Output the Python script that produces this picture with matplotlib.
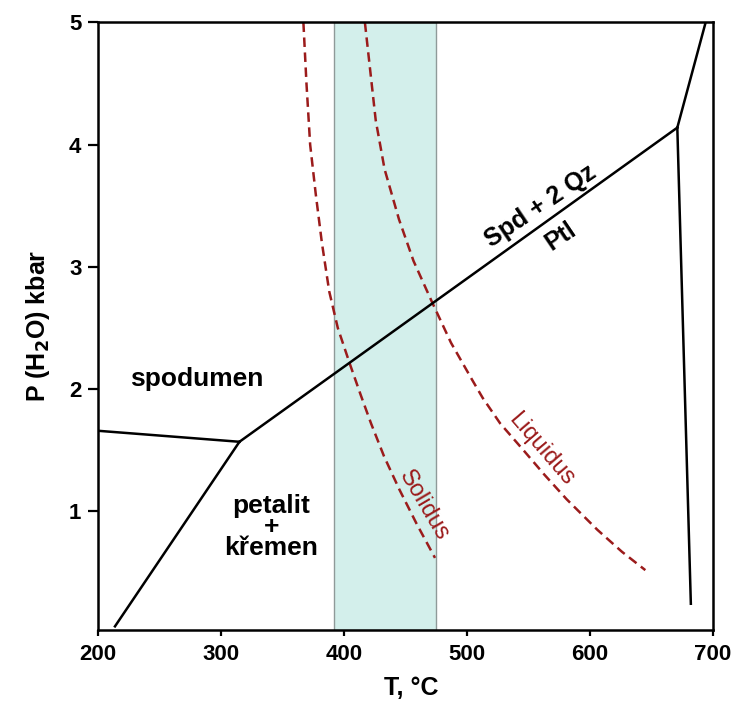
import matplotlib.pyplot as plt

plt.rcParams['font.family'] = ['Liberation Sans', 'DejaVu Sans']
plt.rcParams['font.weight'] = 'bold'
plt.rcParams['mathtext.default'] = 'bf'

# phase boundaries (T in degC, P in kbar)
spd_ptl_T = [315, 671]
spd_ptl_P = [1.57, 4.14]
left_T = [200, 315]
left_P = [1.66, 1.57]
low_T = [213.8, 315]
low_P = [0.06, 1.57]
upper_T = [671, 694]
upper_P = [4.14, 5.0]
steep_T = [671, 682]
steep_P = [4.14, 0.245]

# melting curves
solidus_T = [367, 369.5, 372.5, 377, 382, 388, 395, 405, 413.7, 422, 432.6, 445, 459, 474]
solidus_P = [5.0, 4.5, 4.0, 3.6, 3.2, 2.8, 2.5, 2.2, 1.95, 1.72, 1.45, 1.18, 0.9, 0.62]
liquidus_T = [417, 425.8, 433, 444.7, 456.5, 471.7, 487, 504, 512.7, 527, 546, 563, 581, 606, 626, 645]
liquidus_P = [5.0, 4.2, 3.8, 3.39, 3.05, 2.71, 2.38, 2.08, 1.93, 1.72, 1.50, 1.30, 1.10, 0.85, 0.67, 0.52]

# pegmatite crystallisation interval
band_T = [392, 474.5]

xticks = [200, 300, 400, 500, 600, 700]
yticks = [1, 2, 3, 4, 5]

red = '#9b1b1b'

fig = plt.figure(figsize=(7.39, 7.03), dpi=100)
ax = fig.add_axes([0.1326, 0.1038, 0.8322, 0.8642])

ax.axvspan(band_T[0], band_T[1], facecolor='#d3efeb', edgecolor='#8f9a99', lw=1.0, zorder=0)

for T, P in [(spd_ptl_T, spd_ptl_P), (left_T, left_P), (low_T, low_P),
             (upper_T, upper_P), (steep_T, steep_P)]:
    ax.plot(T, P, color='black', lw=1.8, zorder=3)

ax.plot(solidus_T, solidus_P, color=red, lw=1.8, dashes=(3.8, 2.2), zorder=2)
ax.plot(liquidus_T, liquidus_P, color=red, lw=1.8, dashes=(3.8, 2.2), zorder=2)

ax.text(280, 2.08, 'spodumen', fontsize=19, ha='center', va='center')
ax.text(341, 0.87, 'petalit\n+\nkřemen', fontsize=19, ha='center', va='center',
        linespacing=0.85)
ax.text(560, 3.50, 'Spd + 2 Qz', fontsize=18, ha='center', va='center', rotation=34)
ax.text(576, 3.25, 'Ptl', fontsize=18, ha='center', va='center', rotation=34)
ax.text(465, 1.05, 'Solidus', fontsize=17, color=red, ha='center', va='center',
        rotation=-59.5, weight='normal')
ax.text(560, 1.51, 'Liquidus', fontsize=17, color=red, ha='center', va='center',
        rotation=-49.3, weight='normal')

ax.set_xlim(200, 700)
ax.set_ylim(0.03, 5)
ax.set_xticks(xticks)
ax.set_yticks(yticks)
ax.tick_params(axis='both', labelsize=16, width=1.6, colors='black')
ax.tick_params(axis='y', length=7, pad=5)
ax.tick_params(axis='x', length=4, pad=6)
for lab in ax.get_xticklabels() + ax.get_yticklabels():
    lab.set_fontweight('bold')
for sp in ax.spines.values():
    sp.set_linewidth(1.8)

ax.set_xlabel('T, °C', fontsize=18, fontweight='bold')
ax.xaxis.set_label_coords(0.51, -0.075)
ax.set_ylabel('P (H$_2$O) kbar', fontsize=18, fontweight='bold', labelpad=12)

fig.savefig('out.png', dpi=100)
